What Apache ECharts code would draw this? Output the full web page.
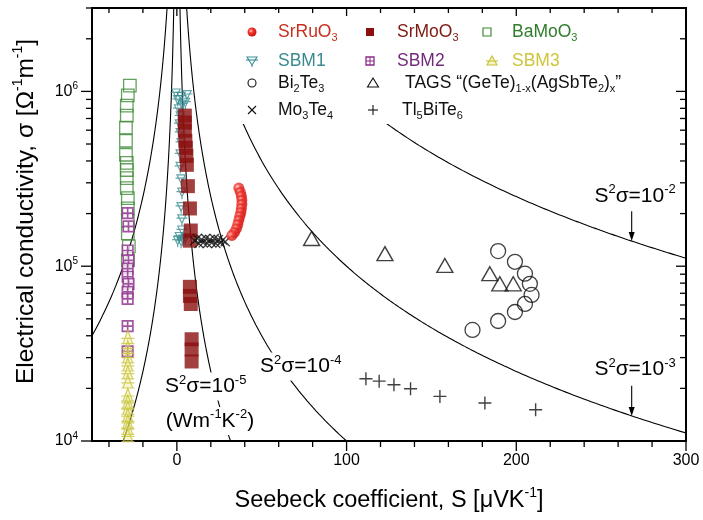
<!DOCTYPE html>
<html>
<head>
<meta charset="utf-8">
<script src="https://cdn.jsdelivr.net/npm/echarts@6.0.0/dist/echarts.min.js"></script>
<style>
html,body{margin:0;padding:0;background:#fff;}
#chart{width:703px;height:520px;}
</style>
</head>
<body>
<div id="chart"></div>
<script>
// ---- axis ranges ----
const sMin = -50, sMax = 300;          // Seebeck coefficient, μV/K
const sigmaMin = 1e4, sigmaMax = 3e6;  // electrical conductivity, Ω⁻¹m⁻¹
const xTickLabels = [0, 100, 200, 300];
const yTickLabels = [1e4, 1e5, 1e6];

// ---- measured points: [S (μV/K), σ (Ω⁻¹m⁻¹)] ----
const SrRuO3 = [
  [36.5, 2.80e5], [37.4, 2.65e5], [38.0, 2.52e5], [38.3, 2.39e5], [38.3, 2.26e5],
  [38.0, 2.14e5], [37.7, 2.03e5], [37.1, 1.93e5], [36.5, 1.83e5], [35.9, 1.73e5],
  [35.1, 1.64e5], [33.9, 1.56e5], [32.4, 1.50e5]
];
const SrMoO3 = [
  [4.7, 7.27e5], [4.7, 6.63e5], [4.7, 5.96e5], [5.0, 5.22e5], [5.3, 4.76e5],
  [5.6, 4.28e5], [5.9, 3.80e5], [6.5, 2.87e5], [7.7, 2.14e5], [8.2, 1.60e5],
  [7.7, 1.40e5], [7.7, 7.62e4], [7.7, 6.76e4], [8.2, 6.08e4], [8.7, 3.82e4],
  [8.7, 3.34e4], [8.7, 2.85e4]
];
const BaMoO3 = [
  [-27.7, 1.08e6], [-28.9, 9.49e5], [-29.5, 8.30e5], [-29.5, 7.27e5], [-30.0, 6.21e5],
  [-30.0, 5.22e5], [-30.0, 4.34e5], [-29.5, 3.90e5], [-29.5, 3.55e5], [-29.5, 3.19e5],
  [-29.5, 2.80e5], [-28.9, 2.45e5], [-28.9, 2.14e5], [-28.9, 1.83e5], [-28.9, 1.54e5],
  [-28.3, 1.30e5], [-28.9, 1.08e5]
];
const SBM1 = [
  [-0.5, 9.6e5], [6.0, 9.4e5], [2.5, 9.2e5], [0.5, 8.8e5], [5.0, 8.5e5], [3.0, 8.3e5],
  [1.0, 7.8e5], [2.0, 7.1e5], [1.5, 6.4e5], [2.0, 5.7e5], [2.5, 5.0e5], [2.0, 4.3e5],
  [2.0, 3.65e5], [2.5, 3.1e5], [3.0, 2.6e5], [2.5, 2.15e5], [3.0, 1.83e5], [3.0, 1.58e5],
  [1.5, 1.45e5], [3.5, 1.40e5], [2.5, 1.36e5], [5.0, 1.42e5], [0.5, 1.38e5]
];
const SBM2 = [
  [-29.0, 2.01e5], [-28.5, 1.69e5], [-29.0, 1.23e5], [-28.5, 1.08e5], [-29.0, 9.68e4],
  [-29.0, 8.70e4], [-28.5, 7.93e4], [-29.0, 7.13e4], [-29.0, 6.50e4], [-29.0, 4.54e4],
  [-29.0, 3.26e4]
];
const SBM3 = [
  [-28.9, 3.93e4], [-28.9, 3.44e4], [-28.9, 3.05e4], [-28.9, 2.74e4], [-28.9, 2.47e4],
  [-28.9, 2.19e4], [-28.9, 1.84e4], [-28.9, 1.68e4], [-28.9, 1.55e4], [-28.9, 1.41e4],
  [-28.9, 1.29e4], [-28.9, 1.19e4], [-28.9, 1.08e4]
];
const Bi2Te3 = [
  [189.3, 1.22e5], [199.2, 1.06e5], [205.1, 9.06e4], [208.0, 7.93e4], [209.0, 6.85e4],
  [205.1, 6.08e4], [199.2, 5.47e4], [189.3, 4.86e4], [174.2, 4.32e4]
];
const TAGS = [
  [79.4, 1.44e5], [122.6, 1.18e5], [157.9, 1.01e5], [184.4, 9.06e4], [190.3, 7.93e4],
  [198.2, 7.93e4]
];
const Mo3Te4 = [
  [10.5, 1.40e5], [12.0, 1.44e5], [13.0, 1.35e5], [14.5, 1.42e5], [15.5, 1.36e5],
  [17.0, 1.44e5], [18.0, 1.35e5], [19.5, 1.42e5], [20.5, 1.36e5], [22.0, 1.44e5],
  [23.0, 1.35e5], [24.5, 1.42e5], [25.5, 1.36e5], [27.0, 1.41e5], [28.5, 1.38e5]
];
const Tl5BiTe6 = [
  [111.4, 2.27e4], [119.2, 2.20e4], [127.9, 2.10e4], [137.7, 1.99e4], [155.0, 1.80e4],
  [181.5, 1.65e4], [211.4, 1.51e4]
];

// iso power-factor lines S²σ (W m⁻¹ K⁻²)
const pfLevels = [1e-5, 1e-4, 1e-3, 1e-2];
const pfWithNegativeBranch = [1e-5, 1e-4];

const FONT = '"Liberation Sans", Arial, Helvetica, sans-serif';

// S²σ = pf  ->  σ = pf / S², S in μV/K
function pfCurve(pf, sign) {
  const pts = [];
  const sEdge = sign > 0 ? sMax : -sMin;
  const lo = Math.max(sigmaMin, pf / Math.pow(sEdge * 1e-6, 2));
  const n = 260;
  for (let i = 0; i <= n; i++) {
    const sigma = lo * Math.pow(sigmaMax / lo, i / n);
    pts.push([sign * Math.sqrt(pf / sigma) * 1e6, sigma]);
  }
  return pts;
}

const SYM = {
  triDownBar: 'path://M0,1L12,1L6,11ZM-2,5L14,5M6,11L6,14',
  sqCross: 'path://M0,0L10,0L10,10L0,10ZM5,0L5,10M0,5L10,5',
  triUpBar: 'path://M6,0L12,10L0,10ZM-2,6L14,6M-2,10L14,10',
  cross: 'path://M0,0L10,10M10,0L0,10',
  plus: 'path://M5,0L5,10M0,5L10,5',
  square: 'path://M0,0L10,0L10,10L0,10Z'
};

const ruGrad = {
  type: 'radial', x: 0.38, y: 0.38, r: 0.65,
  colorStops: [{offset: 0, color: '#ffd6d6'}, {offset: 0.35, color: '#f23a30'}, {offset: 1, color: '#cc1010'}]
};

const series = [];
pfLevels.forEach(function (pf) {
  const signs = pfWithNegativeBranch.indexOf(pf) >= 0 ? [1, -1] : [1];
  signs.forEach(function (sg) {
    series.push({
      type: 'line', data: pfCurve(pf, sg), showSymbol: false, symbol: 'none',
      lineStyle: {color: '#000', width: 1.1}, z: 2, silent: true, clip: true
    });
  });
});

function scatter(name, data, symbol, size, itemStyle) {
  return {name: name, type: 'scatter', data: data, symbol: symbol, symbolSize: size,
    itemStyle: itemStyle, z: 3, silent: true};
}
series.push(scatter('BaMoO3', BaMoO3, SYM.square, 12.5, {color: 'rgba(0,0,0,0)', borderColor: '#3d8a35', borderWidth: 1.3}));
series.push(scatter('SBM2', SBM2, SYM.sqCross, 10.5, {color: '#fff', borderColor: '#8a2a8a', borderWidth: 1.7}));
series.push(scatter('SBM3', SBM3, SYM.triUpBar, 13, {color: 'rgba(235,235,140,0.5)', borderColor: '#c8c23a', borderWidth: 1.2}));
series.push(scatter('SBM1', SBM1, SYM.triDownBar, 11, {color: 'rgba(0,0,0,0)', borderColor: '#3a8d94', borderWidth: 1.2}));
series.push(scatter('SrMoO3', SrMoO3, SYM.square, 14, {color: '#8b0f0f'}));
series.push(scatter('Mo3Te4', Mo3Te4, SYM.cross, 9, {color: 'rgba(0,0,0,0)', borderColor: '#111', borderWidth: 1.3}));
series.push(scatter('SrRuO3', SrRuO3, 'circle', 11, {color: ruGrad}));
series.push(scatter('Bi2Te3', Bi2Te3, 'circle', 15, {color: 'rgba(0,0,0,0)', borderColor: '#111', borderWidth: 1.3}));
series.push(scatter('TAGS', TAGS, 'triangle', [16, 14], {color: 'rgba(0,0,0,0)', borderColor: '#111', borderWidth: 1.4}));
series.push(scatter('Tl5BiTe6', Tl5BiTe6, SYM.plus, 13, {color: 'rgba(0,0,0,0)', borderColor: '#111', borderWidth: 1.4}));

// frame ticks on all four sides: [x, y, kind (0 = S axis, 1 = σ axis), major]
const tickData = [];
for (let v = -40; v <= sMax; v += 20) tickData.push([v, sigmaMin, 0, v % 100 === 0 ? 1 : 0]);
for (let e = 4; e <= 6; e++) {
  for (let k = 1; k <= 9; k++) {
    const v = k * Math.pow(10, e);
    if (v <= sigmaMax) tickData.push([sMin, v, 1, k === 1 ? 1 : 0]);
  }
}
series.push({
  type: 'custom', data: tickData, z: 6, silent: true, clip: false,
  encode: {x: 0, y: 1},
  renderItem: function (params, api) {
    const cs = params.coordSys;
    const st = {stroke: '#000', lineWidth: 1.3};
    const major = api.value(3) === 1;
    if (api.value(2) === 0) {
      const x = api.coord([api.value(0), sigmaMin])[0];
      const out = major ? 10 : 6, inn = major ? 8 : 5;
      return {type: 'group', children: [
        {type: 'line', shape: {x1: x, y1: cs.y + cs.height, x2: x, y2: cs.y + cs.height + out}, style: st},
        {type: 'line', shape: {x1: x, y1: cs.y, x2: x, y2: cs.y + inn}, style: st}
      ]};
    }
    const y = api.coord([sMin, api.value(1)])[1];
    const out = major ? 11 : 6, inn = major ? 10 : 6;
    return {type: 'group', children: [
      {type: 'line', shape: {x1: cs.x - out, y1: y, x2: cs.x, y2: y}, style: st},
      {type: 'line', shape: {x1: cs.x + cs.width - inn, y1: y, x2: cs.x + cs.width, y2: y}, style: st}
    ]};
  }
});

function richModel(size, sup, color) {
  return {
    m: {fontSize: size, fontFamily: FONT, color: color, lineHeight: Math.round(size * 1.25)},
    p: {fontSize: sup, fontFamily: FONT, color: color, verticalAlign: 'top', lineHeight: Math.round(sup * 1.1)}
  };
}

const option = {
  animation: false,
  backgroundColor: '#fff',
  grid: {left: 92, right: 17, top: 8, bottom: 79, show: true, borderColor: '#000', borderWidth: 2, backgroundColor: 'transparent'},
  xAxis: {
    type: 'value', min: sMin, max: sMax, interval: 50,
    axisLine: {show: false}, axisTick: {show: false}, splitLine: {show: false},
    axisLabel: {
      color: '#000', fontSize: 16, fontFamily: FONT, margin: 12,
      formatter: function (v) { return xTickLabels.indexOf(v) >= 0 ? String(v) : ''; }
    },
    name: '{m|Seebeck coefficient, S [μVK}{p|-1}{m|]}',
    nameLocation: 'middle', nameGap: 45,
    nameTextStyle: {rich: richModel(23.5, 14, '#000')}
  },
  yAxis: {
    type: 'log', logBase: 10, min: sigmaMin, max: sigmaMax,
    axisLine: {show: false}, axisTick: {show: false}, splitLine: {show: false}, minorTick: {show: false},
    axisLabel: {
      margin: 14,
      formatter: function (v) {
        const e = Math.log10(v);
        if (Math.abs(e - Math.round(e)) > 1e-6) return '';
        if (yTickLabels.indexOf(Math.pow(10, Math.round(e))) < 0) return '';
        return '{m|10}{p|' + Math.round(e) + '}';
      },
      rich: {
        m: {fontSize: 16, fontFamily: FONT, color: '#000', lineHeight: 20},
        p: {fontSize: 10, fontFamily: FONT, color: '#000', verticalAlign: 'top', lineHeight: 10}
      }
    },
    name: '{m|Electrical conductivity, σ [Ω}{p|-1}{m|m}{p|-1}{m|]}',
    nameLocation: 'middle', nameGap: 50, nameRotate: 90,
    nameTextStyle: {rich: richModel(24.5, 14, '#000'), padding: [0, 0, 0, 26]}
  },
  series: series
};

const chart = echarts.init(document.getElementById('chart'), null, {renderer: 'canvas'});
chart.setOption(option);

function px(S, sigma) { return chart.convertToPixel({xAxisIndex: 0, yAxisIndex: 0}, [S, sigma]); }

function gRich(size, sup, color) {
  return {
    m: {fontSize: size, fontFamily: FONT, fill: color, lineHeight: Math.round(size * 1.25)},
    p: {fontSize: sup, fontFamily: FONT, fill: color, verticalAlign: 'top', lineHeight: Math.round(sup * 1.1)},
    b: {fontSize: sup, fontFamily: FONT, fill: color, verticalAlign: 'bottom', lineHeight: Math.round(sup * 1.1)}
  };
}

// legend icons drawn in pixel space
function legendIcon(kind, cx, cy) {
  const k = '#111';
  switch (kind) {
    case 'ruo': return [{type: 'circle', shape: {cx: cx, cy: cy, r: 4.5}, style: {fill: ruGrad}}];
    case 'mo': return [{type: 'rect', shape: {x: cx - 4, y: cy - 4, width: 8, height: 8}, style: {fill: '#8b0f0f'}}];
    case 'ba': return [{type: 'rect', shape: {x: cx - 4, y: cy - 4, width: 8, height: 8}, style: {fill: 'none', stroke: '#3d8a35', lineWidth: 1.2}}];
    case 'sbm1': return [
      {type: 'polygon', shape: {points: [[cx - 5, cy - 4], [cx + 5, cy - 4], [cx, cy + 4]]}, style: {fill: 'none', stroke: '#3a8d94', lineWidth: 1.1}},
      {type: 'line', shape: {x1: cx - 6, y1: cy - 1, x2: cx + 6, y2: cy - 1}, style: {stroke: '#3a8d94', lineWidth: 1.1}},
      {type: 'line', shape: {x1: cx, y1: cy + 4, x2: cx, y2: cy + 6}, style: {stroke: '#3a8d94', lineWidth: 1.1}}
    ];
    case 'sbm2': return [
      {type: 'rect', shape: {x: cx - 4, y: cy - 4, width: 8, height: 8}, style: {fill: '#fff', stroke: '#8a2a8a', lineWidth: 1.3}},
      {type: 'line', shape: {x1: cx, y1: cy - 4, x2: cx, y2: cy + 4}, style: {stroke: '#8a2a8a', lineWidth: 1}},
      {type: 'line', shape: {x1: cx - 4, y1: cy, x2: cx + 4, y2: cy}, style: {stroke: '#8a2a8a', lineWidth: 1}}
    ];
    case 'sbm3': return [
      {type: 'polygon', shape: {points: [[cx, cy - 5], [cx + 5, cy + 4], [cx - 5, cy + 4]]}, style: {fill: 'rgba(235,235,140,0.5)', stroke: '#c8c23a', lineWidth: 1.1}},
      {type: 'line', shape: {x1: cx - 6, y1: cy, x2: cx + 6, y2: cy}, style: {stroke: '#c8c23a', lineWidth: 1.1}}
    ];
    case 'bi': return [{type: 'circle', shape: {cx: cx, cy: cy, r: 4}, style: {fill: 'none', stroke: k, lineWidth: 1.1}}];
    case 'tags': return [{type: 'polygon', shape: {points: [[cx, cy - 5], [cx + 5.5, cy + 4], [cx - 5.5, cy + 4]]}, style: {fill: 'none', stroke: k, lineWidth: 1.1}}];
    case 'mote': return [
      {type: 'line', shape: {x1: cx - 4, y1: cy - 4, x2: cx + 4, y2: cy + 4}, style: {stroke: k, lineWidth: 1.1}},
      {type: 'line', shape: {x1: cx + 4, y1: cy - 4, x2: cx - 4, y2: cy + 4}, style: {stroke: k, lineWidth: 1.1}}
    ];
    case 'tl': return [
      {type: 'line', shape: {x1: cx, y1: cy - 5, x2: cx, y2: cy + 5}, style: {stroke: k, lineWidth: 1.1}},
      {type: 'line', shape: {x1: cx - 5, y1: cy, x2: cx + 5, y2: cy}, style: {stroke: k, lineWidth: 1.1}}
    ];
  }
  return [];
}

const legendEntries = [
  {icon: 'ruo', text: '{m|SrRuO}{b|3}', color: '#c8301f', ix: 252, tx: 278, y: 32},
  {icon: 'mo', text: '{m|SrMoO}{b|3}', color: '#7d1a12', ix: 370, tx: 397, y: 32},
  {icon: 'ba', text: '{m|BaMoO}{b|3}', color: '#2f7d2a', ix: 487, tx: 512, y: 32},
  {icon: 'sbm1', text: '{m|SBM1}', color: '#3a8a90', ix: 252, tx: 278, y: 61},
  {icon: 'sbm2', text: '{m|SBM2}', color: '#742a7c', ix: 370, tx: 397, y: 61},
  {icon: 'sbm3', text: '{m|SBM3}', color: '#cfc53a', ix: 492, tx: 512, y: 61},
  {icon: 'bi', text: '{m|Bi}{b|2}{m|Te}{b|3}', color: '#111', ix: 252, tx: 278, y: 83},
  {icon: 'tags', text: '{m|TAGS “(GeTe)}{b|1-x}{m|(AgSbTe}{b|2}{m|)}{b|x}{m|”}', color: '#111', ix: 373, tx: 405, y: 83},
  {icon: 'mote', text: '{m|Mo}{b|3}{m|Te}{b|4}', color: '#111', ix: 252, tx: 278, y: 110},
  {icon: 'tl', text: '{m|Tl}{b|5}{m|BiTe}{b|6}', color: '#111', ix: 373, tx: 402, y: 110}
];

const graphics = [];
// white panel behind the legend block
graphics.push({type: 'rect', shape: {x: 203, y: 10, width: 458, height: 114}, style: {fill: '#fff'}, z: 4, silent: true});
legendEntries.forEach(function (en) {
  legendIcon(en.icon, en.ix, en.y).forEach(function (el) { el.z = 5; el.silent = true; graphics.push(el); });
  graphics.push({
    type: 'text', x: en.tx, y: en.y, z: 5, silent: true,
    style: {text: en.text, rich: gRich(17.5, 11, en.color), align: 'left', verticalAlign: 'middle', fill: en.color}
  });
});

// power-factor labels
function pfLabel(text, S, sigma, withBg) {
  const p = px(S, sigma);
  const st = {text: text, rich: gRich(21, 13, '#000'), align: 'center', verticalAlign: 'middle', fill: '#000'};
  if (withBg) { st.backgroundColor = '#fff'; st.padding = [1, 3]; }
  graphics.push({type: 'text', x: p[0], y: p[1], z: 5, silent: true, style: st});
}
pfLabel('{m|S}{p|2}{m|σ=10}{p|-2}', 270, 2.52e5, false);
pfLabel('{m|S}{p|2}{m|σ=10}{p|-3}', 270, 2.56e4, false);
pfLabel('{m|S}{p|2}{m|σ=10}{p|-4}', 73, 2.67e4, true);
pfLabel('{m|S}{p|2}{m|σ=10}{p|-5}', 17, 2.05e4, true);
pfLabel('{m|(Wm}{p|-1}{m|K}{p|-2}{m|)}', 19.5, 1.30e4, true);

// arrows pointing from the labels to their curves
function arrow(pf, S, sigmaStart) {
  const a = px(S, sigmaStart);
  const b = px(S, pf / Math.pow(S * 1e-6, 2));
  graphics.push({type: 'line', shape: {x1: a[0], y1: a[1], x2: b[0], y2: b[1] - 6}, style: {stroke: '#000', lineWidth: 1.1}, z: 5, silent: true});
  graphics.push({type: 'polygon', shape: {points: [[b[0] - 3, b[1] - 9], [b[0] + 3, b[1] - 9], [b[0], b[1]]]}, style: {fill: '#000'}, z: 5, silent: true});
}
arrow(1e-2, 268, 2.06e5);
arrow(1e-3, 268, 2.07e4);

chart.setOption({graphic: graphics});
</script>
</body>
</html>
